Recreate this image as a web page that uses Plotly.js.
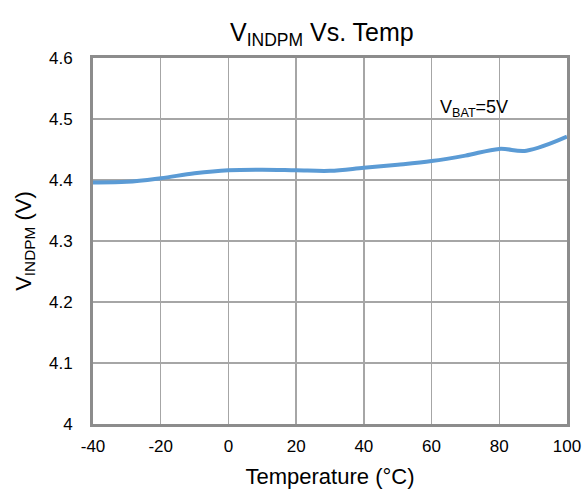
<!DOCTYPE html>
<html>
<head>
<meta charset="utf-8">
<script src="https://cdn.plot.ly/plotly-3.0.1.min.js"></script>
<style>html,body{margin:0;padding:0;background:#fff;}#chart{width:582px;height:494px;}</style>
</head>
<body>
<div id="chart"></div>
<script>
const tempC = [-40, -30, -20, -10, 0, 10, 20, 30, 40, 50, 60, 70, 80, 88, 100];
const vindpm = [4.396, 4.397, 4.403, 4.411, 4.416, 4.417, 4.416, 4.415, 4.420, 4.425, 4.431, 4.440, 4.451, 4.448, 4.471];
const xTicks = [-40, -20, 0, 20, 40, 60, 80, 100];
const yTicks = [4, 4.1, 4.2, 4.3, 4.4, 4.5, 4.6];
const yTickText = ["4", "4.1", "4.2", "4.3", "4.4", "4.5", "4.6"];

const FONT = '"Liberation Sans", Arial, sans-serif';

Plotly.newPlot('chart', [{
  x: tempC, y: vindpm, type: 'scatter', mode: 'lines',
  line: {color: '#5b9bd5', width: 4, shape: 'spline', smoothing: 1},
  hoverinfo: 'skip'
}], {
  width: 582, height: 494,
  margin: {l: 93, r: 15, t: 58, b: 70},
  paper_bgcolor: '#fff', plot_bgcolor: '#fff',
  showlegend: false,
  font: {family: FONT, color: '#000', size: 17},
  title: {text: 'V<sub>INDPM</sub> Vs. Temp', font: {family: FONT, size: 25, color: '#000'}, x: 0.553, xanchor: 'center', y: 0.935, yanchor: 'middle'},
  xaxis: {
    range: [-40, 100], tickvals: xTicks, ticktext: xTicks.map(String),
    showgrid: true, gridcolor: '#a6a6a6', gridwidth: 1.5,
    showline: true, linecolor: '#8c8c8c', linewidth: 3, mirror: true,
    zeroline: false, ticks: '', ticklen: 0, ticklabelstandoff: 5,
    tickfont: {family: FONT, size: 17},
    title: {text: 'Temperature (°C)', font: {family: FONT, size: 22}, standoff: 14}
  },
  yaxis: {
    range: [4, 4.6], tickvals: yTicks, ticktext: yTickText,
    showgrid: true, gridcolor: '#a6a6a6', gridwidth: 1.5,
    showline: true, linecolor: '#8c8c8c', linewidth: 3, mirror: true,
    zeroline: false, ticks: '', ticklen: 0, ticklabelstandoff: 14,
    tickfont: {family: FONT, size: 17},
    title: {text: 'V<sub>INDPM</sub> (V)', font: {family: FONT, size: 22}, standoff: 12}
  },
  annotations: [{
    x: 62, y: 4.518, xref: 'x', yref: 'y', xanchor: 'left', yanchor: 'middle',
    text: 'V<sub>BAT</sub>=5V', showarrow: false, font: {family: FONT, size: 18, color: '#000'}
  }]
}, {staticPlot: true});
</script>
</body>
</html>
